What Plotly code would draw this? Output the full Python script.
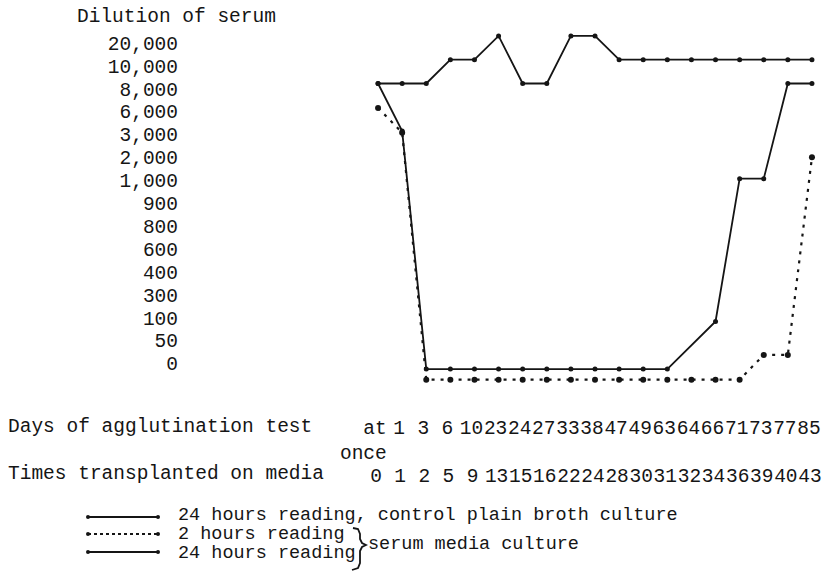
import plotly.graph_objects as go

# Serum dilution levels, bottom to top
dilution_levels = [0, 50, 100, 300, 400, 600, 800, 900, 1000, 2000, 3000, 6000, 8000, 10000, 20000]

# Days of agglutination test and matching number of transplants
days = ["at once", "1", "3", "6", "10", "23", "24", "27", "33", "38",
        "47", "49", "63", "64", "66", "71", "73", "77", "85"]
times_transplanted = ["0", "1", "2", "5", "9", "13", "15", "16", "22", "24",
                      "28", "30", "31", "32", "34", "36", "39", "40", "43"]

# Agglutination titres (None = no reading plotted)
control_24h = [8000, 8000, 8000, 10000, 10000, 20000, 8000, 8000, 20000, 20000,
               10000, 10000, 10000, 10000, 10000, 10000, 10000, 10000, 10000]
serum_2h = [6000, 3000, 0, 0, 0, 0, 0, 0, 0, 0,
            0, 0, 0, 0, 0, 0, 50, 50, 2000]
serum_24h = [8000, 3000, 0, 0, 0, 0, 0, 0, 0, 0,
             0, 0, 0, None, 100, 1000, 1000, 8000, 8000]


def fmt(v):
    return None if v is None else f"{v:,}"


level_labels = [fmt(v) for v in dilution_levels]
# two-word day label is typed on two lines, second line set slightly left
day_ticktext = [d.replace(" ", "<br>") + "\u00a0\u00a0" if " " in d else d for d in days]

W, H = 826, 586
INK = "#151515"
FONT = "Liberation Mono"
FS = 19.5
FS_KEY = 18.5


def px(x):
    return x / W


def py(y):
    return 1 - y / H


fig = go.Figure()

fig.add_trace(go.Scatter(
    x=days, y=[fmt(v) for v in control_24h], xaxis="x", yaxis="y2",
    mode="lines+markers", line=dict(color=INK, width=1.8),
    marker=dict(color=INK, size=5), showlegend=False))

fig.add_trace(go.Scatter(
    x=days, y=[fmt(v) for v in serum_24h], xaxis="x", yaxis="y2",
    mode="lines+markers", line=dict(color=INK, width=1.8), connectgaps=True,
    marker=dict(color=INK, size=5), showlegend=False))

fig.add_trace(go.Scatter(
    x=days, y=[fmt(v) for v in serum_2h], xaxis="x", yaxis="y3",
    mode="lines+markers", line=dict(color=INK, width=2.2, dash="3px,6px"),
    marker=dict(color=INK, size=6), showlegend=False))

# empty trace so the scale-label axes (x2 / y) get a subplot and are drawn
fig.add_trace(go.Scatter(x=[], y=[], xaxis="x2", yaxis="y",
                         mode="markers", showlegend=False, hoverinfo="skip"))

cat_y = dict(type="category", categoryorder="array", categoryarray=level_labels,
             range=[-0.5, len(level_labels) - 0.5], visible=False, fixedrange=True,
             automargin=False)
tickfont = dict(family=FONT, size=FS, color=INK)

fig.update_layout(
    width=W, height=H,
    margin=dict(l=0, r=0, t=0, b=0),
    paper_bgcolor="white", plot_bgcolor="rgba(0,0,0,0)",
    font=dict(family=FONT, size=FS, color=INK),
    xaxis=dict(type="category", categoryorder="array", categoryarray=days,
               range=[-0.5, len(days) - 0.5], domain=[px(366), px(824)],
               anchor="free", position=py(413), showgrid=False, zeroline=False,
               showline=False, ticks="", tickangle=0, ticklabelshift=-3,
               tickmode="array", tickvals=days, ticktext=day_ticktext,
               tickfont=tickfont, automargin=False),
    xaxis2=dict(type="linear", range=[-0.5, len(days) - 0.5],
                domain=[px(366), px(824)], anchor="free", position=py(461),
                tickmode="array", tickvals=list(range(len(times_transplanted))),
                ticktext=times_transplanted, showgrid=False, zeroline=False,
                showline=False, ticks="", tickangle=0, ticklabelshift=-2,
                tickfont=tickfont, automargin=False),
    # labelled dilution scale
    yaxis=dict(type="linear", range=[-0.5, len(level_labels) - 0.5],
               domain=[py(375), py(31.5)], anchor="free", position=px(178),
               tickmode="array", tickvals=list(range(len(level_labels))),
               ticktext=level_labels, showgrid=False, zeroline=False,
               showline=False, ticks="", tickfont=tickfont, automargin=False),
    yaxis2=dict(cat_y, domain=[py(381), py(24)], anchor="x"),
    yaxis3=dict(cat_y, domain=[py(392), py(21.5)], anchor="x"),
)

annotations = [
    dict(text="Dilution of serum", x=px(75), y=py(17), xanchor="left", yanchor="middle", size=FS),
    dict(text="Days of agglutination test", x=px(6), y=py(427), xanchor="left", yanchor="middle", size=FS),
    dict(text="Times transplanted on media", x=px(6), y=py(474), xanchor="left", yanchor="middle", size=FS),
    dict(text="24 hours reading, control plain broth culture", x=px(176), y=py(515), xanchor="left", yanchor="middle", size=FS_KEY),
    dict(text="2 hours reading", x=px(176), y=py(534), xanchor="left", yanchor="middle", size=FS_KEY),
    dict(text="24 hours reading", x=px(176), y=py(553), xanchor="left", yanchor="middle", size=FS_KEY),
    dict(text="serum media culture", x=px(366), y=py(544), xanchor="left", yanchor="middle", size=FS_KEY),
]
for a in annotations:
    size = a.pop("size")
    a.update(xref="paper", yref="paper", showarrow=False,
             font=dict(family=FONT, size=size, color=INK))
fig.update_layout(annotations=annotations)

shapes = []
# legend keys
for yk, dash in [(517, "solid"), (534, "dot"), (552, "solid")]:
    shapes.append(dict(type="line", xref="paper", yref="paper",
                       x0=px(88), x1=px(158), y0=py(yk), y1=py(yk),
                       line=dict(color=INK, width=2, dash=dash)))
    for xe in (88, 158):
        shapes.append(dict(type="circle", xref="paper", yref="paper",
                           x0=px(xe - 2), x1=px(xe + 2), y0=py(yk - 2), y1=py(yk + 2),
                           fillcolor=INK, line=dict(color=INK, width=0)))

# brace joining the two serum media entries
pts = [(353, 528), (358, 529), (360, 534), (360, 539), (362, 543), (366, 545),
       (362, 547), (360, 551), (360, 563), (358, 568), (352, 570)]
path = "M " + " L ".join(f"{px(x):.5f},{py(y):.5f}" for x, y in pts)
shapes.append(dict(type="path", xref="paper", yref="paper", path=path,
                   line=dict(color=INK, width=1.8)))
fig.update_layout(shapes=shapes)

fig.write_html("out.html")
